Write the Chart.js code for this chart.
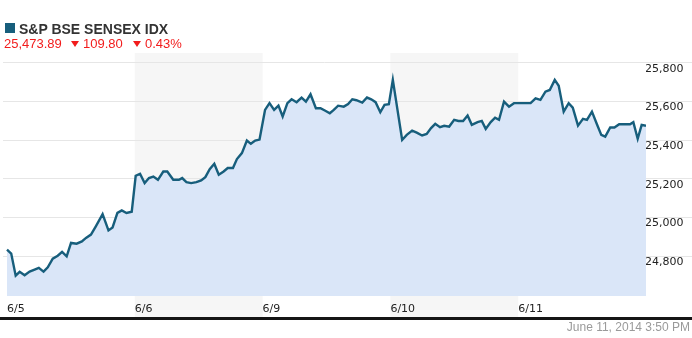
<!DOCTYPE html>
<html>
<head>
<meta charset="utf-8">
<script src="https://cdn.jsdelivr.net/npm/chart.js@4"></script>
<style>
  body { margin: 0; width: 692px; height: 338px; background: #fff; position: relative; overflow: hidden; font-family: Arial, "Liberation Sans", sans-serif; }
  #wrap { position: absolute; left: 0; top: 0; width: 692px; height: 338px; }
  .abs { position: absolute; white-space: nowrap; line-height: 1; }
  #swatch { left: 5px; top: 23px; width: 10px; height: 10px; background: #175e7c; }
  #title { left: 19px; top: 22px; font-size: 14px; font-weight: bold; color: #333; }
  .quote { top: 37px; font-size: 13px; color: #f21c1c; }
  .tri { position: absolute; top: 41px; width: 0; height: 0; border-left: 4.5px solid transparent; border-right: 4.5px solid transparent; border-top: 6px solid #f21c1c; }
  #rule { position: absolute; left: 0; top: 317px; width: 692px; height: 3px; background: #151515; }
  #stamp { right: 2px; top: 321px; font-size: 12px; color: #9a9a9a; }
</style>
</head>
<body>
<div id="wrap"><canvas id="sensexChart" width="692" height="338"></canvas></div>
<div class="abs" id="swatch"></div>
<div class="abs" id="title">S&amp;P BSE SENSEX IDX</div>
<div class="abs quote" style="left:4px">25,473.89</div>
<div class="tri" style="left:71px"></div>
<div class="abs quote" style="left:83px">109.80</div>
<div class="tri" style="left:133px"></div>
<div class="abs quote" style="left:145px">0.43%</div>
<div id="rule"></div>
<div class="abs" id="stamp">June 11, 2014 3:50 PM</div>

<script>
// trading days shown on the x axis
const dayLabels = ["6/5", "6/6", "6/9", "6/10", "6/11"];

// position of each quote, in trading days from the 6/5 open
const tradeTime = [
  0, 0.033, 0.068, 0.099, 0.138, 0.177, 0.216, 0.249, 0.286, 0.319, 0.358, 0.397, 0.431, 0.467,
  0.501, 0.545, 0.586, 0.618, 0.657, 0.695, 0.748, 0.794, 0.826, 0.864, 0.898, 0.935, 0.976,
  1.007, 1.041, 1.077, 1.111, 1.145, 1.181, 1.223, 1.254, 1.301, 1.345, 1.371, 1.404, 1.441,
  1.482, 1.519, 1.552, 1.586, 1.622, 1.657, 1.695, 1.727, 1.768, 1.799, 1.838, 1.877, 1.908,
  1.942, 1.976,
  2.019, 2.054, 2.090, 2.124, 2.157, 2.194, 2.227, 2.266, 2.305, 2.339, 2.375, 2.417, 2.453,
  2.487, 2.526, 2.557, 2.591, 2.635, 2.669, 2.702, 2.734, 2.780, 2.817, 2.850, 2.884, 2.921,
  2.954, 2.988,
  3.019, 3.092, 3.128, 3.170, 3.206, 3.248, 3.284, 3.318, 3.351, 3.388, 3.421, 3.460, 3.499,
  3.533, 3.569, 3.604, 3.637, 3.682, 3.715, 3.746, 3.785, 3.819, 3.850, 3.889, 3.928, 3.967,
  4.005, 4.058, 4.097, 4.136, 4.174, 4.213, 4.247, 4.286, 4.317, 4.356, 4.395, 4.427, 4.468,
  4.507, 4.538, 4.577, 4.616, 4.650, 4.681, 4.720, 4.753, 4.790, 4.832, 4.875, 4.901, 4.935,
  4.966, 5.0
];

// S&P BSE Sensex level at each quote
const indexLevel = [
  24834, 24814, 24700, 24720, 24702, 24721, 24731, 24740, 24721, 24743, 24788, 24803, 24823, 24800,
  24869, 24865, 24877, 24895, 24912, 24955, 25018, 24934, 24949, 25024, 25037, 25024, 25030,
  25216, 25226, 25178, 25204, 25212, 25195, 25238, 25238, 25195, 25195, 25204, 25183, 25178,
  25183, 25192, 25209, 25250, 25278, 25221, 25238, 25256, 25256, 25302, 25333, 25398, 25381,
  25398, 25403,
  25556, 25591, 25556, 25578, 25522, 25591, 25611, 25596, 25620, 25599, 25637, 25565, 25565,
  25553, 25539, 25556, 25578, 25573, 25586, 25611, 25606, 25594, 25620, 25611, 25596, 25544,
  25582, 25586,
  25711, 25401, 25427, 25449, 25439, 25424, 25432, 25462, 25484, 25467, 25474, 25470, 25505,
  25499, 25499, 25527, 25479, 25493, 25499, 25458, 25493, 25516, 25505, 25599, 25573, 25591,
  25591, 25591, 25591, 25616, 25608, 25650, 25659, 25711, 25681, 25547, 25591, 25568, 25475,
  25510, 25505, 25547, 25482, 25427, 25418, 25465, 25465, 25482, 25482, 25482, 25493, 25407,
  25479, 25474
];

// y axis tick labels
const levelTicks = [24800, 25000, 25200, 25400, 25600, 25800];

// shaded trading days (index into dayLabels)
const shadedDays = [1, 3];

const points = tradeTime.map((t, i) => ({ x: t, y: indexLevel[i] }));

const dayBands = {
  id: "dayBands",
  beforeDraw(chart) {
    const { ctx, chartArea, scales } = chart;
    ctx.save();
    ctx.fillStyle = "#f6f6f6";
    shadedDays.forEach(d => {
      const x1 = scales.x.getPixelForValue(d);
      const x2 = scales.x.getPixelForValue(d + 1);
      ctx.fillRect(x1, chartArea.top, x2 - x1, chartArea.bottom - chartArea.top + scales.x.height);
    });
    ctx.restore();
  }
};

const ctx = document.getElementById("sensexChart").getContext("2d");

new Chart(ctx, {
  type: "line",
  data: {
    datasets: [{
      label: "S&P BSE SENSEX IDX",
      data: points,
      borderColor: "#175e7c",
      borderWidth: 2.4,
      backgroundColor: "#dae6f8",
      fill: "start",
      pointRadius: 0,
      tension: 0
    }]
  },
  options: {
    responsive: false,
    animation: false,
    layout: { padding: { left: 0, right: 0, top: 53, bottom: 21 } },
    plugins: {
      legend: { display: false },
      tooltip: { enabled: false }
    },
    scales: {
      x: {
        type: "linear",
        min: -0.031,
        max: 5.0,
        afterBuildTicks: axis => { axis.ticks = dayLabels.map((_, i) => ({ value: i })); },
        afterFit: axis => { axis.height = 21; },
        grid: { display: false, drawTicks: false },
        border: { display: false },
        ticks: {
          align: "start",
          padding: 7,
          color: "#222",
          font: { family: "DejaVu Sans", size: 11 },
          maxRotation: 0,
          autoSkip: false,
          callback: value => dayLabels[value]
        }
      },
      y: {
        position: "right",
        min: 24595,
        max: 25850,
        afterBuildTicks: axis => { axis.ticks = levelTicks.map(v => ({ value: v })); },
        afterFit: axis => { axis.width = 46; },
        grid: { color: "#e6e6e6", tickLength: 46, tickColor: "#e6e6e6" },
        border: { display: false },
        ticks: {
          crossAlign: "near",
          padding: -47,
          labelOffset: 6,
          color: "#222",
          font: { family: "DejaVu Sans", size: 11 },
          callback: value => value.toLocaleString("en-US")
        }
      }
    }
  },
  plugins: [dayBands]
});
</script>
</body>
</html>
